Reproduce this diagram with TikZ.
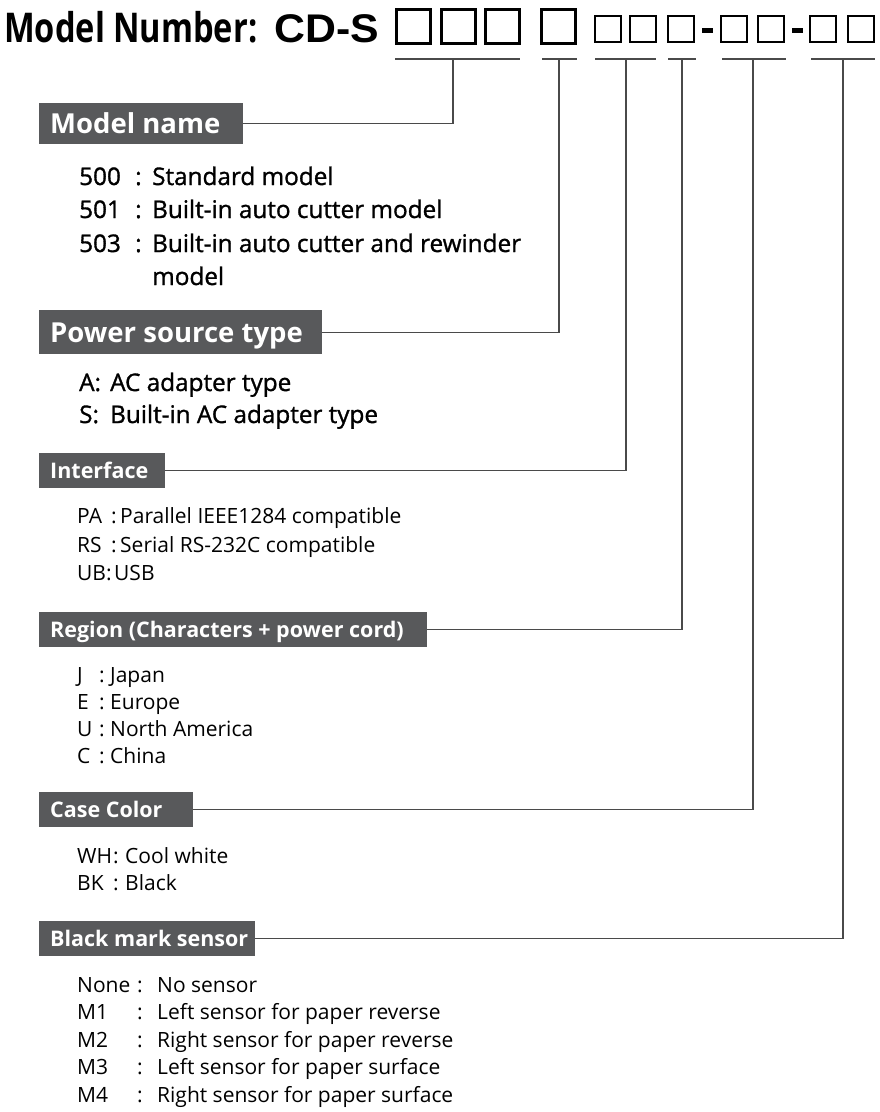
\documentclass[tikz,border=0pt]{standalone}
\usepackage{fontspec}
\setmainfont{Open Sans}
\newfontfamily\cdfont{Liberation Sans}
\newfontfamily\medfont[FakeBold=1.2]{Open Sans}
\definecolor{hdrgray}{HTML}{58595B}
\definecolor{linegray}{HTML}{4A4A4A}
\newcommand{\entry}[8]{%
  \node[#8] (#1k) at (#3,#2) {#6};
  \node[#8] (#1c) at (#4,#2) {:};
  \node[#8] (#1v) at (#5,#2) {#7};}
\newcommand{\hdrtxt}[2]{\makebox[#1][l]{#2}}
\begin{document}
\begin{tikzpicture}[x=1pt,y=-1pt,
  conn/.style={draw=linegray, line width=1.3pt},
  hdr/.style={fill=hdrgray, text=white, anchor=north west, inner xsep=11pt, inner ysep=0pt, text depth=0pt},
  bighdr/.style={hdr, font=\fontsize{27.5}{30}\selectfont\bfseries, text height=19.6pt},
  smallhdr/.style={hdr, font=\fontsize{21.5}{24}\selectfont\bfseries, text height=15.4pt},
  big/.style={anchor=base west, inner sep=0pt, font=\fontsize{24.3}{28}\medfont},
  small/.style={anchor=base west, inner sep=0pt, font=\fontsize{21}{24}\selectfont},
  bigbox/.style={draw, line width=3pt, inner sep=0pt, minimum width=34pt, minimum height=34pt},
  smallbox/.style={draw, line width=2pt, inner sep=0pt, minimum width=26pt, minimum height=26pt},
  dashbar/.style={fill, inner sep=0pt, minimum width=11pt, minimum height=5pt}]
\useasboundingbox (0,0) rectangle (879,1112);
% title
\node[anchor=base west, inner sep=0pt] (title) at (4,42) {\scalebox{0.795}[1]{\fontsize{41}{41}\selectfont\bfseries Model Number:}};
\node[anchor=base west, inner sep=0pt] (cds) at (274,42) {\scalebox{1.07}[1]{\fontsize{40}{40}\cdfont\bfseries CD-S}};
% boxes
\node[bigbox] (b1) at (413.5,26.5) {};
\node[bigbox] (b2) at (458,26.5) {};
\node[bigbox] (b3) at (502,26.5) {};
\node[bigbox] (b4) at (558.5,26.5) {};
\node[smallbox] (s5) at (607.5,29) {};
\node[smallbox] (s6) at (643,29) {};
\node[smallbox] (s7) at (681,29) {};
\node[dashbar] (d1) at (707.5,30.5) {};
\node[smallbox] (s8) at (734,29) {};
\node[smallbox] (s9) at (771,29) {};
\node[dashbar] (d2) at (797.5,30.5) {};
\node[smallbox] (s10) at (823,29) {};
\node[smallbox] (s11) at (861,29) {};
% underlines
\coordinate (u1a) at (395,59); \coordinate (u1b) at (520,59); \coordinate (v1) at (453,59);
\coordinate (u2a) at (542,59); \coordinate (u2b) at (577,59); \coordinate (v2) at (559,59);
\coordinate (u3a) at (595,59); \coordinate (u3b) at (656,59); \coordinate (v3) at (626,59);
\coordinate (u4a) at (668,59); \coordinate (u4b) at (696,59); \coordinate (v4) at (682,59);
\coordinate (u5a) at (722,59); \coordinate (u5b) at (786,59); \coordinate (v5) at (753,59);
\coordinate (u6a) at (811,59); \coordinate (u6b) at (875,59); \coordinate (v6) at (843,59);
\foreach \i in {1,...,6} {\draw[conn] (u\i a) -- (u\i b);}
% headers
\node[bighdr, minimum width=204pt, minimum height=41pt] (mname) at (39,103) {\hdrtxt{182pt}{Model name}};
\node[bighdr, minimum width=283pt, minimum height=44pt] (power) at (39,310) {\hdrtxt{261pt}{Power source type}};
\node[smallhdr, minimum width=126pt, minimum height=35pt] (iface) at (39,453) {\hdrtxt{104pt}{Interface}};
\node[smallhdr, minimum width=388pt, minimum height=35pt] (region) at (39,612) {\hdrtxt{366pt}{Region (Characters + power cord)}};
\node[smallhdr, minimum width=154pt, minimum height=35pt] (case) at (39,792) {\hdrtxt{132pt}{Case Color}};
\node[smallhdr, minimum width=216pt, minimum height=35pt] (bms) at (39,921) {\hdrtxt{194pt}{Black mark sensor}};
% connectors
\draw[conn] (mname.east) -| (v1);
\draw[conn] (power.east) -| (v2);
\draw[conn] (iface.east) -| (v3);
\draw[conn] (region.east) -| (v4);
\draw[conn] (case.east) -| (v5);
\draw[conn] (bms.east) -| (v6);
% model name items
\entry{ma}{185}{79}{135}{152}{500}{Standard model}{big}
\entry{mb}{218}{79}{135}{152}{501}{Built-in auto cutter model}{big}
\entry{mc}{252}{79}{135}{152}{503}{Built-in auto cutter and rewinder}{big}
\node[big] (mcv2) at (152,285) {model};
% power items
\node[big] (pak) at (79,391) {A:};
\node[big] (pav) at (110,391) {AC adapter type};
\node[big] (psk) at (79,423) {S:};
\node[big] (psv) at (110,423) {Built-in AC adapter type};
% interface items
\entry{ia}{523}{77}{111}{120}{PA}{Parallel IEEE1284 compatible}{small}
\entry{ib}{552}{77}{111}{120}{RS}{Serial RS-232C compatible}{small}
\node[small] (ick) at (77,580) {UB:};
\node[small] (icv) at (114,580) {USB};
% region items
\entry{ra}{682}{77}{99}{110}{J}{Japan}{small}
\entry{rb}{709}{77}{99}{110}{E}{Europe}{small}
\entry{rc}{736}{77}{99}{110}{U}{North America}{small}
\entry{rd}{763}{77}{99}{110}{C}{China}{small}
% case items
\entry{ca}{863}{77}{113}{125}{WH}{Cool white}{small}
\entry{cb}{890}{77}{113}{125}{BK}{Black}{small}
% black mark items
\entry{ka}{992}{77}{137}{157}{None}{No sensor}{small}
\entry{kb}{1019}{77}{137}{157}{M1}{Left sensor for paper reverse}{small}
\entry{kc}{1047}{77}{137}{157}{M2}{Right sensor for paper reverse}{small}
\entry{kd}{1074}{77}{137}{157}{M3}{Left sensor for paper surface}{small}
\entry{ke}{1102}{77}{137}{157}{M4}{Right sensor for paper surface}{small}
\end{tikzpicture}
\end{document}
